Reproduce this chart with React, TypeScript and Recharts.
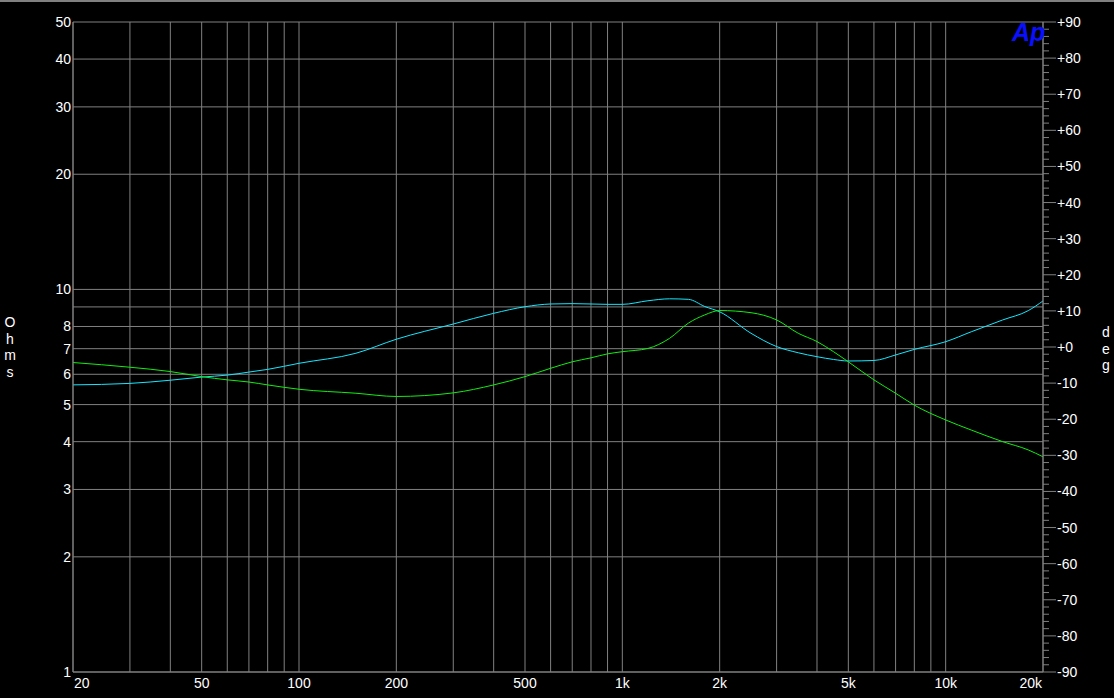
import React from 'react';
import { LineChart, Line, XAxis, YAxis, CartesianGrid } from 'recharts';

// measurement points (Hz)
const freqs = [
  20, 30, 40, 50, 60, 70, 80, 100, 150, 200, 300, 400, 500, 600, 700, 800, 900,
  1000, 1200, 1400, 1600, 1800, 2000, 2500, 3000, 3500, 4000, 4500, 5000, 6000,
  7000, 8000, 10000, 12000, 15000, 18000, 20000,
];

// impedance magnitude (Ohms), cyan trace
const impedance = [
  5.63, 5.68, 5.79, 5.9, 5.97, 6.08, 6.18, 6.41, 6.81, 7.41, 8.12, 8.66, 9.01,
  9.16, 9.18, 9.16, 9.14, 9.14, 9.34, 9.45, 9.42, 9.02, 8.74, 7.68, 7.09, 6.83,
  6.67, 6.56, 6.5, 6.52, 6.74, 6.97, 7.3, 7.75, 8.32, 8.8, 9.33,
];

// impedance phase (deg), green trace
const phase = [
  -4.3, -5.6, -6.8, -8.2, -9.1, -9.7, -10.5, -11.7, -12.8, -13.7, -12.7, -10.5,
  -8.2, -5.9, -4.1, -3.0, -1.9, -1.3, -0.4, 2.4, 6.6, 8.9, 10.1, 9.5, 7.5, 3.8,
  1.5, -1.3, -4.1, -9.1, -12.8, -16.1, -20.2, -23.0, -26.2, -28.5, -30.4,
];

const freqTicks = [
  20, 30, 40, 50, 60, 70, 80, 90, 100, 200, 300, 400, 500, 600, 700, 800, 900,
  1000, 2000, 3000, 4000, 5000, 6000, 7000, 8000, 9000, 10000, 20000,
];
const freqLabels = [20, 50, 100, 200, 500, 1000, 2000, 5000, 10000, 20000];

const ohmTicks = [1, 2, 3, 4, 5, 6, 7, 8, 9, 10, 20, 30, 40, 50];
const ohmLabels = [1, 2, 3, 4, 5, 6, 7, 8, 10, 20, 30, 40, 50];

const degTicks = [
  -90, -88, -86, -84, -82, -80, -78, -76, -74, -72, -70, -68, -66, -64, -62,
  -60, -58, -56, -54, -52, -50, -48, -46, -44, -42, -40, -38, -36, -34, -32,
  -30, -28, -26, -24, -22, -20, -18, -16, -14, -12, -10, -8, -6, -4, -2, 0, 2,
  4, 6, 8, 10, 12, 14, 16, 18, 20, 22, 24, 26, 28, 30, 32, 34, 36, 38, 40, 42,
  44, 46, 48, 50, 52, 54, 56, 58, 60, 62, 64, 66, 68, 70, 72, 74, 76, 78, 80,
  82, 84, 86, 88, 90,
];
const degLabels = [-90, -80, -70, -60, -50, -40, -30, -20, -10, 0, 10, 20, 30, 40, 50, 60, 70, 80, 90];

const data = freqs.map((f, i) => ({ freq: f, ohm: impedance[i], deg: phase[i] }));

const GRID = '#808080';
const FONT = '"Liberation Sans", Arial, sans-serif';

const fmtFreq = (f: number) => (f >= 1000 ? `${f / 1000}k` : `${f}`);
const fmtDeg = (d: number) => (d >= 0 ? `+${d}` : `${d}`);

const FreqTick = ({ x, y, payload }: any) => {
  const v = payload.value;
  if (!freqLabels.includes(v)) return null;
  // first label sits right of the line, last one left of it
  const anchor = v === 20 ? 'start' : v === 20000 ? 'end' : 'middle';
  const dx = v === 20 ? 1 : v === 20000 ? -1 : 0;
  return (
    <text x={x + dx} y={y + 16} textAnchor={anchor} fill="#fff" fontSize={14} fontFamily={FONT}>
      {fmtFreq(v)}
    </text>
  );
};

const OhmTick = ({ x, y, payload }: any) => {
  if (!ohmLabels.includes(payload.value)) return null;
  return (
    <text x={x - 2} y={y + 5} textAnchor="end" fill="#fff" fontSize={14} fontFamily={FONT}>
      {payload.value}
    </text>
  );
};

const DegTick = ({ x, y, payload }: any) => {
  const major = degLabels.includes(payload.value);
  return (
    <g>
      <line x1={x} y1={y} x2={x + (major ? 13 : 6)} y2={y} stroke={GRID} />
      {major && (
        <text x={x + 14} y={y + 5} textAnchor="start" fill="#fff" fontSize={14} fontFamily={FONT}>
          {fmtDeg(payload.value)}
        </text>
      )}
    </g>
  );
};

const stacked = (letters: string[], left: number, top: number) => (
  <div
    style={{
      position: 'absolute',
      left,
      top,
      color: '#fff',
      fontFamily: FONT,
      fontSize: 14,
      lineHeight: '16.5px',
      textAlign: 'center',
      width: 14,
    }}
  >
    {letters.map((c, i) => (
      <div key={i}>{c}</div>
    ))}
  </div>
);

export default function App() {
  return (
    <div
      style={{
        position: 'fixed',
        left: 0,
        top: 0,
        width: 1114,
        height: 698,
        background: '#000',
        overflow: 'hidden',
      }}
    >
      <div style={{ position: 'absolute', left: 0, top: 0, width: 1114, height: 2, background: GRID }} />
      <LineChart width={1114} height={698} data={data} margin={{ top: 22, right: 0, bottom: 0, left: 0 }}>
        <CartesianGrid yAxisId="ohm" stroke={GRID} strokeWidth={1} />
        <XAxis
          dataKey="freq"
          type="number"
          scale="log"
          domain={[20, 20000]}
          ticks={freqTicks}
          interval={0}
          height={26}
          tickSize={0}
          tickMargin={0}
          tick={<FreqTick />}
          axisLine={{ stroke: GRID }}
          allowDataOverflow
        />
        <YAxis
          yAxisId="ohm"
          orientation="left"
          type="number"
          scale="log"
          domain={[1, 50]}
          ticks={ohmTicks}
          interval={0}
          width={73}
          tickSize={0}
          tickMargin={0}
          tick={<OhmTick />}
          axisLine={{ stroke: GRID }}
          allowDataOverflow
        />
        <YAxis
          yAxisId="deg"
          orientation="right"
          type="number"
          domain={[-90, 90]}
          ticks={degTicks}
          interval={0}
          width={71}
          tickSize={0}
          tickMargin={0}
          tick={<DegTick />}
          tickLine={false}
          axisLine={{ stroke: GRID }}
          allowDataOverflow
        />
        <Line
          yAxisId="ohm"
          dataKey="ohm"
          type="monotone"
          stroke="#14e8ff"
          strokeWidth={1}
          dot={false}
          isAnimationActive={false}
        />
        <Line
          yAxisId="deg"
          dataKey="deg"
          type="monotone"
          stroke="#10ee10"
          strokeWidth={1}
          dot={false}
          isAnimationActive={false}
        />
      </LineChart>
      {stacked(['O', 'h', 'm', 's'], 3, 314)}
      {stacked(['d', 'e', 'g'], 1099, 324)}
      <div
        style={{
          position: 'absolute',
          left: 1012,
          top: 17,
          color: '#0a10ff',
          fontFamily: FONT,
          fontWeight: 'bold',
          fontStyle: 'italic',
          fontSize: 25,
          lineHeight: '30px',
        }}
      >
        Ap
      </div>
    </div>
  );
}
